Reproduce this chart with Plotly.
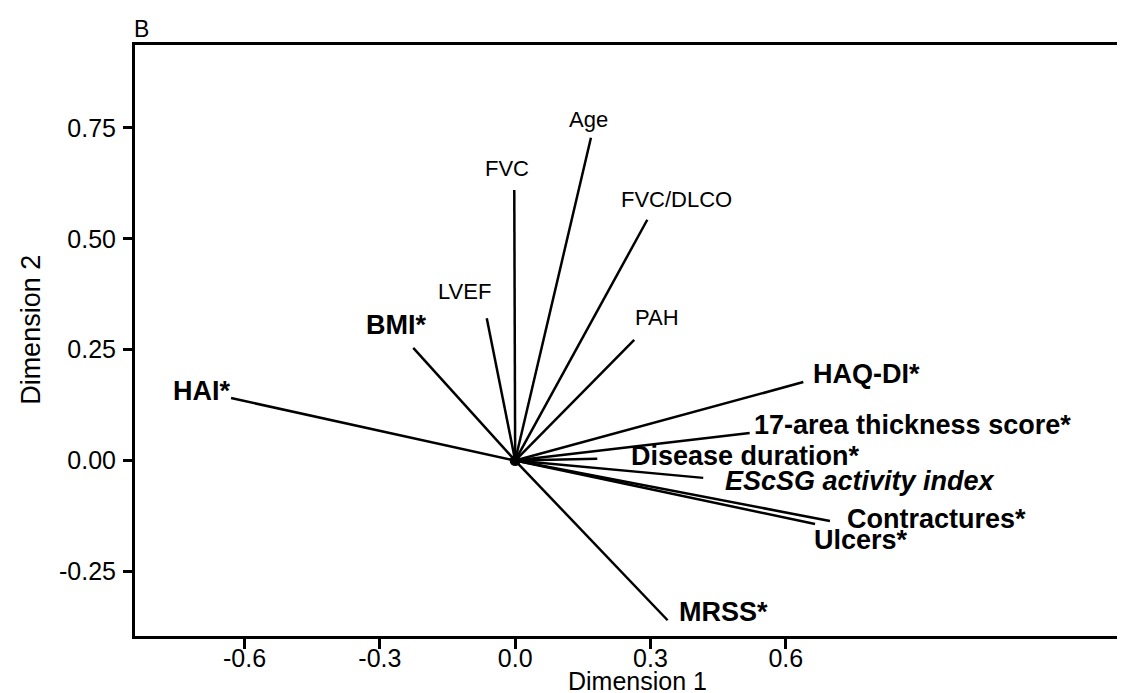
import plotly.graph_objects as go

# Variables of the biplot (vector end points in Dimension 1 / Dimension 2)
variables = ["Age", "FVC", "FVC/DLCO", "LVEF", "PAH", "BMI*", "HAI*",
             "HAQ-DI*", "17-area thickness score*", "Disease duration*",
             "EScSG activity index", "Contractures*", "Ulcers*", "MRSS*"]
dim1 = [0.168, -0.002, 0.293, -0.063, 0.264, -0.226, -0.630,
        0.639, 0.520, 0.182, 0.417, 0.698, 0.665, 0.338]
dim2 = [0.728, 0.610, 0.543, 0.321, 0.272, 0.254, 0.141,
        0.177, 0.062, 0.004, -0.039, -0.136, -0.143, -0.360]

x_ticks = [-0.6, -0.3, 0.0, 0.3, 0.6]
x_tick_labels = ["-0.6", "-0.3", "0.0", "0.3", "0.6"]
y_ticks = [-0.25, 0.0, 0.25, 0.50, 0.75]
y_tick_labels = ["-0.25", "0.00", "0.25", "0.50", "0.75"]

# label style: (bold, italic, xanchor, xshift px, yshift px)
label_style = {
    "Age": (False, False, "center", -2, 18),
    "FVC": (False, False, "center", -7, 22),
    "FVC/DLCO": (False, False, "center", 29, 20),
    "LVEF": (False, False, "center", -22, 27),
    "PAH": (False, False, "center", 23, 22),
    "BMI*": (True, False, "center", -17, 23),
    "HAI*": (True, False, "center", -30, 7),
    "HAQ-DI*": (True, False, "left", 8, 8),
    "17-area thickness score*": (True, False, "left", 2, 8),
    "Disease duration*": (True, False, "left", 32, 3),
    "EScSG activity index": (True, True, "left", 20, -3),
    "Contractures*": (True, False, "left", 15, 2),
    "Ulcers*": (True, False, "left", -3, -16),
    "MRSS*": (True, False, "left", 9, 8),
}

FONT = "Liberation Sans, Arial, sans-serif"

lx, ly = [], []
for x, y in zip(dim1, dim2):
    lx += [0, x, None]
    ly += [0, y, None]

fig = go.Figure()
fig.add_trace(go.Scatter(x=lx, y=ly, mode="lines",
                         line=dict(color="black", width=2.5),
                         hoverinfo="skip", showlegend=False))
fig.add_trace(go.Scatter(x=[0], y=[0], mode="markers",
                         marker=dict(color="black", size=11),
                         hoverinfo="skip", showlegend=False))

annotations = []
for name, x, y in zip(variables, dim1, dim2):
    bold, italic, xa, dx, dy = label_style[name]
    txt = name
    if italic:
        txt = "<i>" + txt + "</i>"
    if bold:
        txt = "<b>" + txt + "</b>"
    annotations.append(dict(
        x=x, y=y, xref="x", yref="y", text=txt, showarrow=False,
        xanchor=xa, yanchor="middle", xshift=dx, yshift=dy,
        font=dict(family=FONT, size=27 if bold else 22, color="black")))

annotations.append(dict(
    x=0, y=1, xref="paper", yref="paper", text="B", showarrow=False,
    xanchor="left", yanchor="bottom", xshift=-3, yshift=1,
    font=dict(family=FONT, size=23, color="black")))

# axis titles
annotations.append(dict(
    x=0.5035, y=-0.076, xref="paper", yref="paper", text="Dimension 1",
    showarrow=False, xanchor="center", yanchor="middle",
    font=dict(family=FONT, size=25, color="black")))
annotations.append(dict(
    x=-0.1042, y=0.518, xref="paper", yref="paper", text="Dimension 2",
    showarrow=False, xanchor="center", yanchor="middle", textangle=-90,
    font=dict(family=FONT, size=27, color="black")))

fig.update_layout(
    width=1125, height=693,
    margin=dict(l=127, r=0, t=37, b=65),
    paper_bgcolor="white", plot_bgcolor="white",
    font=dict(family=FONT, color="black"),
    annotations=annotations,
    xaxis=dict(range=[-0.843, 1.370], tickvals=x_ticks, ticktext=x_tick_labels,
               showgrid=False, zeroline=False, showline=True, linecolor="black",
               linewidth=3, mirror=True, ticks="outside", ticklen=10,
               tickwidth=2.5, tickcolor="black", ticklabelstandoff=-12,
               tickfont=dict(family=FONT, size=25, color="black")),
    yaxis=dict(range=[-0.3955, 0.937], tickvals=y_ticks, ticktext=y_tick_labels,
               showgrid=False, zeroline=False, showline=True, linecolor="black",
               linewidth=3, mirror=False, ticks="outside", ticklen=9,
               tickwidth=2.5, tickcolor="black", ticklabelstandoff=2,
               tickfont=dict(family=FONT, size=25, color="black")),
)

fig.write_html("out.html")
